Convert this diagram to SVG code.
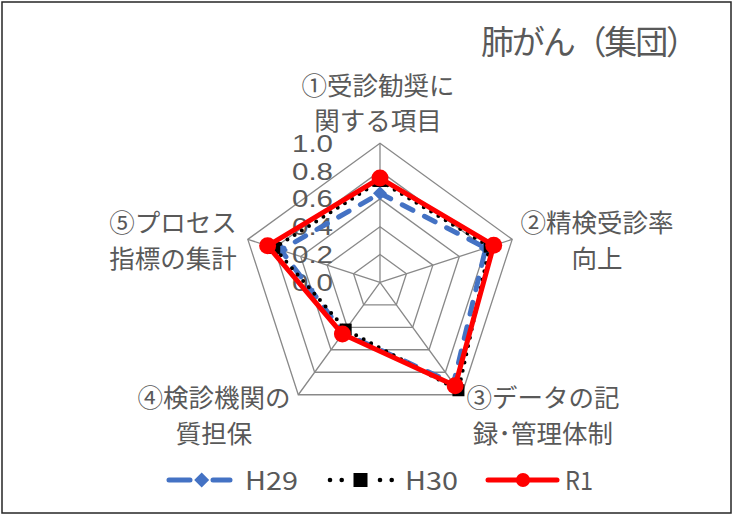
<svg xmlns="http://www.w3.org/2000/svg" xmlns:xlink="http://www.w3.org/1999/xlink" width="741" height="516" viewBox="0 0 741 516">
<style>
.t{font-family:"Noto Sans CJK JP","Noto Sans",sans-serif;fill:#595959}
.lab{font-size:25.5px;text-anchor:middle}
.num{font-family:"Liberation Sans",Arial,sans-serif;font-size:23px;text-anchor:end;fill:#595959}
.grid{fill:none;stroke:#898989;stroke-width:1.3}
.h29{fill:none;stroke:#4472C4;stroke-width:5;stroke-dasharray:12 13;stroke-linecap:round;stroke-linejoin:round}
.h30{fill:none;stroke:#000;stroke-width:4;stroke-dasharray:0 8.5;stroke-linecap:round;stroke-linejoin:round}
.r1{fill:none;stroke:#FF0000;stroke-width:5;stroke-linejoin:round}
</style>
<defs>
<path id="dia" d="M0,-7 L7,0 L0,7 L-7,0Z" fill="#4472C4"/>
<rect id="sq" x="-6" y="-6" width="12" height="12" fill="#000"/>
<circle id="dot" r="8.5" fill="#FF0000"/>
</defs>
<rect x="0" y="0" width="741" height="516" fill="#fff"/>
<rect x="2" y="2" width="729" height="511" fill="#fff" stroke="#262626" stroke-width="1.5"/>
<text class="t" font-size="33" x="481" y="54" textLength="218" lengthAdjust="spacing">肺がん（集団）</text>
<g id="grid">
<polygon class="grid" points="380,143.3 512.2,239.35 461.7,394.75 298.3,394.75 247.8,239.35"/>
<polygon class="grid" points="380,171.1 485.76,247.94 445.36,372.26 314.64,372.26 274.24,247.94"/>
<polygon class="grid" points="380,198.9 459.32,256.53 429.02,349.77 330.98,349.77 300.68,256.53"/>
<polygon class="grid" points="380,226.7 432.88,265.12 412.68,327.28 347.32,327.28 327.12,265.12"/>
<polygon class="grid" points="380,254.5 406.44,273.71 396.34,304.79 363.66,304.79 353.56,273.71"/>
<path class="grid" d="M380,282.3 L380,143.3 M380,282.3 L512.2,239.35 M380,282.3 L461.7,394.75 M380,282.3 L298.3,394.75 M380,282.3 L247.8,239.35"/>
</g>
<g id="scale">
<text class="num" x="333" y="151.7" textLength="41" lengthAdjust="spacingAndGlyphs">1.0</text>
<text class="num" x="333" y="179.5" textLength="41" lengthAdjust="spacingAndGlyphs">0.8</text>
<text class="num" x="333" y="207.3" textLength="41" lengthAdjust="spacingAndGlyphs">0.6</text>
<text class="num" x="333" y="235.1" textLength="41" lengthAdjust="spacingAndGlyphs">0.4</text>
<text class="num" x="333" y="262.9" textLength="41" lengthAdjust="spacingAndGlyphs">0.2</text>
<text class="num" x="333" y="290.7" textLength="41" lengthAdjust="spacingAndGlyphs">0.0</text>
</g>
<g id="axis1"><text class="t lab" x="378" y="95">①受診勧奨に</text><text class="t lab" x="378" y="130">関する項目</text></g>
<g id="axis2"><text class="t lab" x="597" y="232">②精検受診率</text><text class="t lab" x="597" y="268">向上</text></g>
<g id="axis3"><text class="t lab" x="543" y="407">③データの記</text><text class="t lab" x="543" y="443">録･管理体制</text></g>
<g id="axis4"><text class="t lab" x="214" y="407">④検診機関の</text><text class="t lab" x="214" y="443">質担保</text></g>
<g id="axis5"><text class="t lab" x="173" y="232">⑤プロセス</text><text class="t lab" x="173" y="268">指標の集計</text></g>
<g id="connectors">
<g id="series-H29">
<polygon class="h29" points="380,193.34 485.76,247.94 453.53,383.51 343.23,332.9 280.85,250.09"/>
<use xlink:href="#dia" x="380" y="193.34"/><use xlink:href="#dia" x="485.76" y="247.94"/><use xlink:href="#dia" x="453.53" y="383.51"/><use xlink:href="#dia" x="343.23" y="332.9"/><use xlink:href="#dia" x="280.85" y="250.09"/>
</g>
<g id="series-H30">
<polygon class="h30" points="380,181 489.73,246.65 458.44,390.25 345.68,329.53 274.24,247.94"/>
<use xlink:href="#sq" x="380" y="181"/><use xlink:href="#sq" x="489.73" y="246.65"/><use xlink:href="#sq" x="458.44" y="390.25"/><use xlink:href="#sq" x="345.68" y="329.53"/><use xlink:href="#sq" x="274.24" y="247.94"/>
</g>
<g id="series-R1">
<polygon class="r1" points="380,178.05 493.69,245.36 455.17,385.76 342.42,334.03 267.63,245.79"/>
<use xlink:href="#dot" x="380" y="178.05"/><use xlink:href="#dot" x="493.69" y="245.36"/><use xlink:href="#dot" x="455.17" y="385.76"/><use xlink:href="#dot" x="342.42" y="334.03"/><use xlink:href="#dot" x="267.63" y="245.79"/>
</g>
</g>
<g id="legend">
<path d="M169,480 H190 M213,480 H230" stroke="#4472C4" stroke-width="5" stroke-linecap="round"/>
<path d="M201.7,472.5 L209.2,480 L201.7,487.5 L194.2,480Z" fill="#4472C4"/>
<text class="t" font-size="25" x="245" y="490" textLength="53" lengthAdjust="spacingAndGlyphs">H29</text>
<circle cx="330" cy="480" r="2.3" fill="#000"/><circle cx="341.7" cy="480" r="2.3" fill="#000"/>
<circle cx="380" cy="480" r="2.3" fill="#000"/><circle cx="391.7" cy="480" r="2.3" fill="#000"/>
<rect x="353.5" y="473" width="14" height="14" fill="#000"/>
<text class="t" font-size="25" x="405" y="490" textLength="53" lengthAdjust="spacingAndGlyphs">H30</text>
<path d="M488,480 H557" stroke="#FF0000" stroke-width="5" stroke-linecap="round"/>
<circle cx="523" cy="480" r="7" fill="#FF0000"/>
<text class="t" font-size="25" x="565" y="490" textLength="28" lengthAdjust="spacingAndGlyphs">R1</text>
</g>
</svg>
